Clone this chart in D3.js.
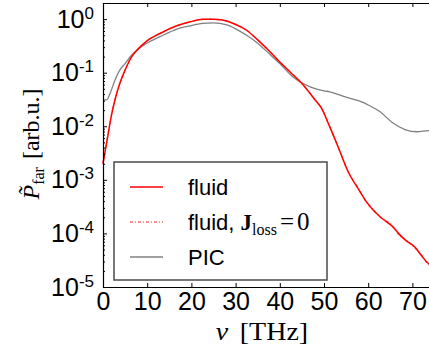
<!DOCTYPE html>
<html>
<head>
<meta charset="utf-8">
<script src="https://cdn.jsdelivr.net/npm/d3@7"></script>
<style>
  body { margin: 0; background: #fff; }
  svg { display: block; }
</style>
</head>
<body>
<svg width="429" height="354"></svg>
<script>
// frequency (THz) and far-field power (arb. u.)
const nuFluid = [0, 0.8, 2.0, 2.7, 3.8, 5.0, 6.5, 7.6, 9.9, 12.9, 16.7, 19.7, 22.6, 25, 27, 29.5, 32.5, 35, 37.5, 40, 42.5, 45, 48, 49.5, 51, 53.2, 55.5, 58, 59.5, 61, 62.7, 64, 65.6, 67, 68.7, 70.6, 72, 73.5, 75];
const pFluid = [2.0e-3, 4.8e-3, 0.0174, 0.031, 0.063, 0.112, 0.20, 0.26, 0.39, 0.54, 0.75, 0.89, 0.99, 1.0, 0.96, 0.83, 0.62, 0.41, 0.26, 0.158, 0.100, 0.063, 0.031, 0.0214, 0.0112, 4.1e-3, 1.4e-3, 6.3e-4, 4.0e-4, 2.8e-4, 2.05e-4, 1.68e-4, 1.32e-4, 9.7e-5, 7.2e-5, 5.5e-5, 3.9e-5, 2.8e-5, 2.4e-5];
const pLoss0 = [2.0e-3, 4.8e-3, 0.0174, 0.031, 0.063, 0.112, 0.20, 0.26, 0.39, 0.54, 0.75, 0.89, 0.99, 1.0, 0.96, 0.83, 0.62, 0.41, 0.26, 0.158, 0.100, 0.063, 0.031, 0.0214, 0.0112, 4.1e-3, 1.4e-3, 6.5e-4, 3.9e-4, 2.9e-4, 2.0e-4, 1.74e-4, 1.36e-4, 9.3e-5, 7.4e-5, 5.3e-5, 4.0e-5, 2.7e-5, 2.4e-5];
const nuPIC = [0, 0.8, 1.6, 2.7, 3.8, 5, 6.5, 7.6, 9.9, 12.9, 16.7, 19.7, 22.6, 25, 28, 30, 32.5, 35, 37.5, 40, 43, 47, 50, 51.3, 55, 58.8, 60, 62.7, 65.6, 68.3, 71, 73.8, 75];
const pPIC = [0.031, 0.031, 0.041, 0.072, 0.112, 0.148, 0.214, 0.26, 0.355, 0.47, 0.65, 0.75, 0.83, 0.85, 0.78, 0.66, 0.50, 0.355, 0.23, 0.148, 0.083, 0.054, 0.046, 0.044, 0.035, 0.028, 0.025, 0.0186, 0.0115, 0.0087, 0.0079, 0.0083, 0.0083];

const xTicks = [0, 10, 20, 30, 40, 50, 60, 70];
const yExps = [0, -1, -2, -3, -4, -5];
const legendNames = ["fluid", "fluid, ", "PIC"];

const svg = d3.select("svg");

const xScale = d3.scaleLinear().domain([0, 75]).range([103, 434.5]);
const yScale = d3.scaleLog().domain([1e-5, 2]).range([287, 3]);

// series
const line = function (nu, p) {
    return d3.line().x(function (d, i) { return xScale(nu[i]) })
        .y(function (d) { return yScale(d) })
        .curve(d3.curveMonotoneX)(p);
};

const plot = svg.append("g");
plot.append("path").attr("d", line(nuPIC, pPIC))
    .attr("fill", "none").attr("stroke", "#808080").attr("stroke-width", 1.3);
plot.append("path").attr("d", line(nuFluid, pLoss0))
    .attr("fill", "none").attr("stroke", "#ff6a6a").attr("stroke-width", 1.3)
    .attr("stroke-dasharray", "3,2,1,2");
plot.append("path").attr("d", line(nuFluid, pFluid))
    .attr("fill", "none").attr("stroke", "#ff0000").attr("stroke-width", 1.5);

// axes
const xAxisB = d3.axisBottom(xScale).tickValues(xTicks).tickSize(-4).tickSizeOuter(0).tickFormat(d3.format("d"));
svg.append("g").attr("id", "xAxisG").attr("transform", "translate(0,287)").call(xAxisB);
d3.select("#xAxisG").selectAll("text").attr("y", 23).attr("dy", 0)
    .style("font-family", "'Liberation Sans', Arial, sans-serif").style("font-size", "25px").style("fill", "#000");

const xAxisT = d3.axisTop(xScale).tickValues(xTicks).tickSize(-4).tickSizeOuter(0).tickFormat("");
svg.append("g").attr("id", "xAxisTopG").attr("transform", "translate(0,3)").call(xAxisT);

const yMajor = yExps.map(function (e) { return Math.pow(10, e) });
const yMinor = [];
yExps.slice(1).forEach(function (e) {
    for (let k = 2; k <= 9; k++) yMinor.push(k * Math.pow(10, e));
});
yMinor.push(2);

const yAxis = d3.axisLeft(yScale).tickValues(yMajor).tickSize(-4).tickSizeOuter(0).tickFormat("");
svg.append("g").attr("id", "yAxisG").attr("transform", "translate(103,0)").call(yAxis);
const yAxisMinor = d3.axisLeft(yScale).tickValues(yMinor).tickSize(-2).tickSizeOuter(0).tickFormat("");
svg.append("g").attr("id", "yAxisMinorG").attr("transform", "translate(103,0)").call(yAxisMinor);
d3.select("#yAxisMinorG").select(".domain").remove();

svg.selectAll(".domain").attr("stroke", "#000").attr("stroke-width", 1.2);

const yLab = svg.append("g").selectAll("text").data(yExps).enter().append("text")
    .attr("x", 94).attr("y", function (d) { return yScale(Math.pow(10, d)) + 8.5 })
    .attr("text-anchor", "end")
    .style("font-family", "'Liberation Sans', Arial, sans-serif").style("font-size", "25px");
yLab.append("tspan").text("10");
yLab.append("tspan").attr("dy", -9).style("font-size", "17px").text(function (d) { return d === 0 ? "0" : "-" + (-d) });

// axis labels
svg.append("text").attr("transform", "translate(262,340) scale(1.12,1)").attr("text-anchor", "middle")
    .style("font-family", "'Liberation Serif', 'Times New Roman', serif").style("font-size", "25px")
    .call(function (t) {
        t.append("tspan").style("font-style", "italic").text("ν");
        t.append("tspan").attr("dx", 4).text(" [THz]");
    });

svg.append("text").attr("transform", "translate(39,144) rotate(-90)").attr("text-anchor", "middle")
    .style("font-family", "'Liberation Serif', 'Times New Roman', serif").style("font-size", "24px")
    .call(function (t) {
        t.append("tspan").style("font-style", "italic").text("P\u0303");
        t.append("tspan").attr("dy", 5).style("font-size", "16px").text("far");
        t.append("tspan").attr("dy", -5).attr("dx", 2).text(" [arb.u.]");
    });

// legend
const legend = svg.append("g");
legend.append("rect").attr("x", 114).attr("y", 162).attr("width", 213).attr("height", 118)
    .attr("fill", "#fff").attr("stroke", "#555").attr("stroke-width", 1.6);
const legendY = [187, 222, 257];
const legendStroke = [["#ff0000", null, 1.5], ["#ff6a6a", "3,2,1,2", 1.3], ["#808080", null, 1.3]];
legend.selectAll("line").data(legendY).enter().append("line")
    .attr("x1", 130).attr("x2", 163)
    .attr("y1", function (d) { return d }).attr("y2", function (d) { return d })
    .attr("stroke", function (d, i) { return legendStroke[i][0] })
    .attr("stroke-dasharray", function (d, i) { return legendStroke[i][1] })
    .attr("stroke-width", function (d, i) { return legendStroke[i][2] });
const legText = legend.selectAll("text.leg").data(legendNames).enter().append("text").attr("class", "leg")
    .attr("x", 188).attr("y", function (d, i) { return legendY[i] + 8 })
    .style("font-family", "'Liberation Sans', Arial, sans-serif").style("font-size", "22px")
    .text(function (d) { return d });
const mathT = d3.select(legText.nodes()[1]).style("font-family", null);
mathT.text(null);
mathT.append("tspan").style("font-family", "'Liberation Sans', Arial, sans-serif").text("fluid, ");
mathT.append("tspan").style("font-family", "'Liberation Serif', serif").style("font-weight", "bold").style("font-size", "23px").text("J");
mathT.append("tspan").attr("dy", 5).style("font-family", "'Liberation Serif', serif").style("font-size", "16px").text("loss");
mathT.append("tspan").attr("dy", -5).attr("dx", 3).style("font-family", "'Liberation Serif', serif").style("font-size", "25px").text("=");
mathT.append("tspan").attr("dx", 3).style("font-family", "'Liberation Serif', serif").style("font-size", "25px").text("0");
</script>
</body>
</html>
